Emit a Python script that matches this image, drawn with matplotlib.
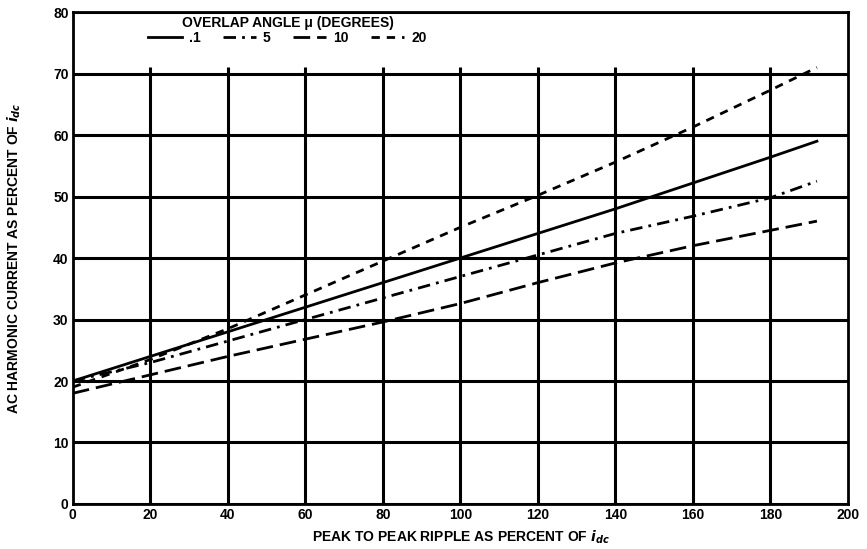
import matplotlib.pyplot as plt
import numpy as np

# ripple (% of Idc) vs harmonic current (% of Idc)
ripple = [0, 20, 40, 60, 80, 100, 120, 140, 160, 180, 192]
mu_01 = [20, 24, 28, 32, 36, 40, 44, 48, 52.2, 56.4, 59]
mu_5 = [20, 23, 26.5, 30, 33.5, 37, 40.5, 44, 46.8, 49.8, 52.5]
mu_10 = [18, 21, 24, 26.8, 29.6, 32.6, 36, 39.2, 42, 44.5, 46]
mu_20 = [19, 23.5, 28.5, 34, 39.5, 45, 50.2, 55.6, 61.3, 67.3, 71]

labels = ['.1', '5', '10', '20']

plt.rcParams['font.family'] = ['Liberation Sans', 'DejaVu Sans']
plt.rcParams['font.weight'] = 'bold'

fig = plt.figure(figsize=(8.67, 5.49), dpi=100)
ax = fig.add_axes([0.084, 0.082, 0.894, 0.896])

ax.plot(ripple, mu_01, color='black', lw=2, ls='-', label=labels[0])
ax.plot(ripple, mu_5, color='black', lw=2, dashes=(4.5, 2.2, 1, 2.2), label=labels[1])
ax.plot(ripple, mu_10, color='black', lw=2, dashes=(6, 2.5), label=labels[2])
ax.plot(ripple, mu_20, color='black', lw=2, dashes=(3, 2.5), label=labels[3])

ax.set_xlim(0, 200)
ax.set_ylim(0, 80)
xt = np.arange(0, 201, 20)
ax.set_xticks(xt)
ax.set_yticks(np.arange(0, 81, 10))
# horizontal grid over the full width, vertical lines stop at 70
ax.yaxis.grid(True, color='black', lw=2.2)
ax.vlines(xt[1:-1], 0, 71, color='black', lw=2.2, zorder=0.5)
for s in ax.spines.values():
    s.set_linewidth(2)
ax.tick_params(labelsize=10, length=0, pad=3)
for t in ax.get_xticklabels() + ax.get_yticklabels():
    t.set_fontweight('bold')

ax.set_xlabel('PEAK TO PEAK RIPPLE AS PERCENT OF $i_{dc}$', fontsize=10,
              fontweight='bold', labelpad=5)
ax.set_ylabel('AC HARMONIC CURRENT AS PERCENT OF $i_{dc}$', fontsize=10,
              fontweight='bold', labelpad=22)

leg = ax.legend(title='OVERLAP ANGLE \u03bc (DEGREES)', ncol=4, frameon=False,
                loc='upper left', bbox_to_anchor=(0.085, 1.012),
                fontsize=10, title_fontsize=10, handlelength=2.4,
                handletextpad=0.5, columnspacing=1.6, borderpad=0.2,
                labelspacing=0.1)
leg.get_title().set_fontweight('bold')

fig.savefig('out.png', dpi=100)
